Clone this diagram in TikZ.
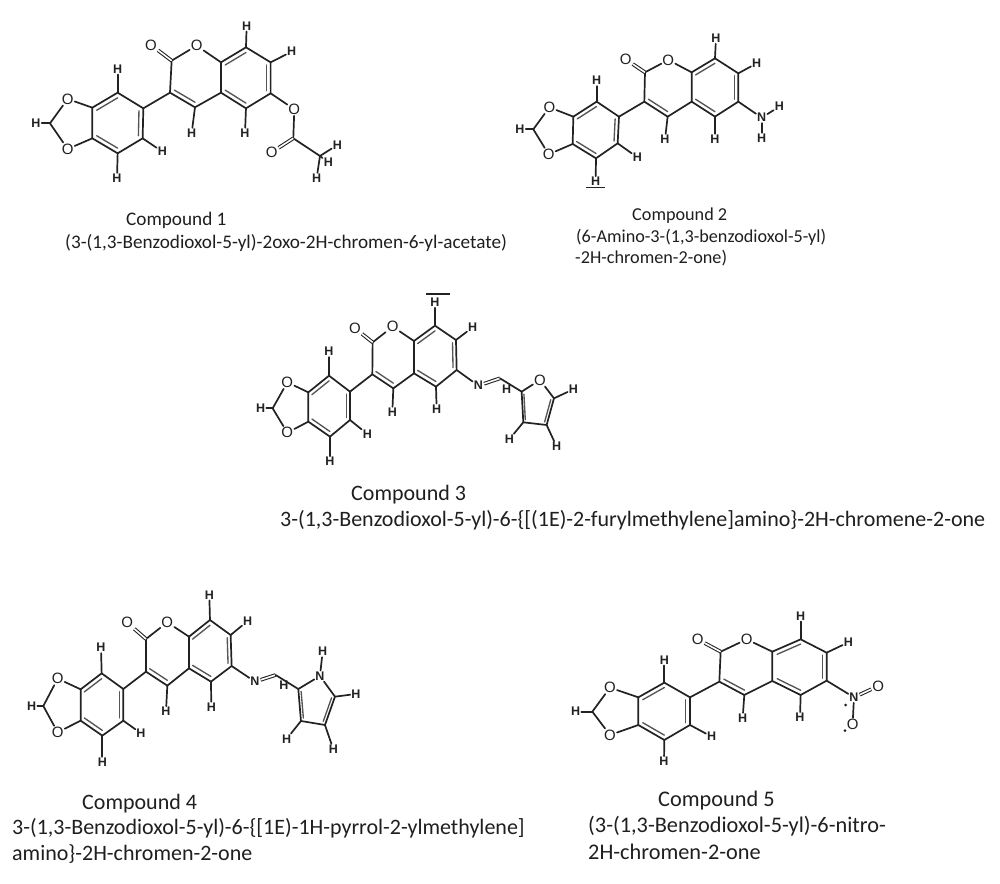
\documentclass[tikz,border=0pt]{standalone}
\usepackage{fontspec}
\setmainfont{Carlito}
\newfontfamily\atomfont{Liberation Sans}
\usetikzlibrary{calc}
\definecolor{ink}{HTML}{222222}
\definecolor{inkb}{HTML}{555555}
\tikzset{
  bond/.style={line width=1.7pt,color=ink,line cap=round,line join=round},
  inbond/.style={line width=1.35pt,color=inkb,line cap=round},
  dbond/.style={double=white,double distance=1.6pt,line width=1.05pt,color=ink},
  hatom/.style={inner sep=1pt,text=ink,font=\atomfont\bfseries\fontsize{12.5}{12.5}\selectfont},
  natom/.style={inner sep=1pt,text=ink,font=\atomfont\bfseries\fontsize{12.5}{12.5}\selectfont},
  oatom/.style={inner sep=1pt,text=ink,font=\atomfont\fontsize{15}{15}\selectfont},
  captext/.style={anchor=base west,inner sep=0pt,text=black!88},
  rulemark/.style={line width=1.1pt,color=ink},
  molscope/.style={x=.3333pt,y=-.3333pt}
}
% inner line of a ring double bond: both ends pulled towards the ring centre
\newcommand{\inb}[3]{\draw[inbond] ($(#1)!.17!(#3)$) -- ($(#2)!.17!(#3)$);}
% common skeleton: prefix #1
\newcommand{\skeleton}[1]{%
  \coordinate (#1ca) at ($(#1a1)!.5!(#1a4)$);
  \coordinate (#1cb) at ($(#1c3)!.5!(#1c8a)$);
  \coordinate (#1cc) at ($(#1c5)!.5!(#1c8)$);
  \node[oatom] (#1O1) at (#1pO1) {O};
  \node[oatom] (#1O2) at (#1pO2) {O};
  \node[oatom] (#1O) at (#1pO) {O};
  \node[oatom] (#1Oc) at (#1pOc) {O};
  \node[hatom] (#1Hm) at (#1pHm) {H};
  \node[hatom] (#1Ht) at (#1pHt) {H};
  \node[hatom] (#1Hr) at (#1pHr) {H};
  \node[hatom] (#1Hb) at (#1pHb) {H};
  \node[hatom] (#1H4) at (#1pH4) {H};
  \node[hatom] (#1H5) at (#1pH5) {H};
  \node[hatom] (#1H7) at (#1pH7) {H};
  \node[hatom] (#1H8) at (#1pH8) {H};
  \draw[bond] (#1a1)--(#1a2)--(#1a3)--(#1a4)--(#1a5)--(#1a6)--cycle;
  \draw[bond] (#1a5)--(#1O2)--(#1m)--(#1O1)--(#1a6);
  \draw[bond] (#1m)--(#1Hm);
  \draw[bond] (#1a1)--(#1Ht);
  \draw[bond] (#1a3)--(#1Hr);
  \draw[bond] (#1a4)--(#1Hb);
  \draw[bond] (#1a2)--(#1c3)--(#1c4)--(#1c4a)--(#1c8a)--(#1O)--(#1c2)--(#1c3);
  \draw[bond] (#1c4a)--(#1c5)--(#1c6)--(#1c7)--(#1c8)--(#1c8a);
  \draw[dbond] (#1c2)--(#1Oc);
  \draw[bond] (#1c4)--(#1H4);
  \draw[bond] (#1c5)--(#1H5);
  \draw[bond] (#1c7)--(#1H7);
  \draw[bond] (#1c8)--(#1H8);
  \inb{#1a1}{#1a6}{#1ca}
  \inb{#1a2}{#1a3}{#1ca}
  \inb{#1a4}{#1a5}{#1ca}
  \inb{#1c3}{#1c4}{#1cb}
  \inb{#1c4a}{#1c5}{#1cc}
  \inb{#1c6}{#1c7}{#1cc}
  \inb{#1c8}{#1c8a}{#1cc}
}
\newcommand{\setpts}[2]{\foreach \n/\x/\y in {#2}{\coordinate (#1\n) at (\x,\y);}}
\begin{document}
\begin{tikzpicture}[x=1pt,y=-1pt]
\useasboundingbox (0,0) rectangle (1000,883);
\fill[white] (0,0) rectangle (1000,883);

% ---------- Compound 1
\begin{scope}[shift={(20,30)},molscope]
\setpts{A}{a1/293/188,a2/370/235,a3/368/325,a4/293/370,a5/217/325,a6/217/233,
 m/90/280,c3/450/188,c4/525/232,c4a/603/188,c8a/603/97,c2/455/92,c5/678/235,c6/752/190,c7/752/97,c8/678/52,
 pO1/143/207,pO2/143/357,pO/530/47,pOc/393/45,pHm/48/280,pHt/293/117,pHr/427/365,pHb/291/445,
 pH4/515/310,pH5/675/310,pH7/815/65,pH8/680/-12}
\skeleton{A}
\coordinate (Acx) at (820,325);
\coordinate (Ach) at (900,378);
\node[oatom] (AOe) at (823,238) {O};
\node[oatom] (AOd) at (755,367) {O};
\node[hatom] (AHa) at (952,345) {H};
\node[hatom] (AHb2) at (925,398) {H};
\node[hatom] (AHc) at (890,445) {H};
\draw[bond] (Ac6)--(AOe)--(Acx)--(Ach);
\draw[dbond] (Acx)--(AOd);
\draw[bond] (Ach)--(AHa);
\draw[bond] (Ach)--(AHb2);
\draw[bond] (Ach)--(AHc);
\end{scope}

% ---------- Compound 2
\begin{scope}[shift={(500,20)},molscope]
\setpts{B}{a1/290/245,a2/357/290,a3/353/370,a4/288/415,a5/218/372,a6/220/290,
 m/100/328,c3/433/245,c4/503/290,c4a/575/245,c8a/575/157,c2/435/157,c5/645/290,c6/715/245,c7/715/160,c8/645/115,
 pO1/148/262,pO2/146/403,pO/505/120,pOc/377/118,pHm/60/328,pHt/290/182,pHr/412/412,pHb/287/485,
 pH4/495/358,pH5/645/358,pH7/770/130,pH8/648/55}
\skeleton{B}
\node[natom] (BN) at (785,293) {N};
\node[hatom] (BHn1) at (838,260) {H};
\node[hatom] (BHn2) at (785,355) {H};
\draw[bond] (Bc6)--(BN)--(BHn1);
\draw[bond] (BN)--(BHn2);
\draw[rulemark] (258,503)--(315,503);
\end{scope}

% ---------- Compound 3
\begin{scope}[shift={(240,285)},molscope]
\setpts{C}{a1/267/272,a2/330/320,a3/330/405,a4/270/455,a5/205/410,a6/205/322,
 m/98/370,c3/397/268,c4/460/310,c4a/522/265,c8a/522/168,c2/398/172,c5/588/305,c6/650/255,c7/648/165,c8/585/122,
 pO1/142/292,pO2/142/443,pO/458/125,pOc/345/130,pHm/62/370,pHt/267/200,pHr/382/447,pHb/270/530,
 pH4/457/382,pH5/590/372,pH7/698/127,pH8/585/52}
\skeleton{C}
\coordinate (Cch) at (780,280);
\coordinate (Cf2) at (845,320);
\coordinate (Cf5) at (942,340);
\coordinate (Cf4) at (920,420);
\coordinate (Cf3) at (850,412);
\coordinate (Cfc) at (885,365);
\node[natom] (CN) at (715,302) {N};
\node[oatom] (CO3) at (900,285) {O};
\node[hatom] (CHc) at (800,312) {H};
\node[hatom] (CH5f) at (1000,313) {H};
\node[hatom] (CH4f) at (950,485) {H};
\node[hatom] (CH3f) at (808,463) {H};
\draw[bond] (Cc6)--(CN);
\draw[dbond] (CN)--(Cch);
\draw[bond] (Cch)--(Cf2);
\draw[bond] (Cf2)--(CO3)--(Cf5)--(Cf4)--(Cf3)--(Cf2);
\inb{Cf2}{Cf3}{Cfc}
\inb{Cf5}{Cf4}{Cfc}
\draw[bond] (Cf5)--(CH5f);
\draw[bond] (Cf4)--(CH4f);
\draw[bond] (Cf3)--(CH3f);
\draw[rulemark] (558,27)--(630,27);
\end{scope}

% ---------- Compound 4
\begin{scope}[shift={(10,590)},molscope]
\setpts{D}{a1/275/250,a2/340/297,a3/340/392,a4/277/437,a5/212/392,a6/212/298,
 m/100/348,c3/408/245,c4/472/287,c4a/537/235,c8a/537/140,c2/408/147,c5/603/275,c6/665/228,c7/662/135,c8/600/90,
 pO1/143/266,pO2/143/427,pO/472/97,pOc/352/98,pHm/65/348,pHt/273/173,pHr/393/430,pHb/277/517,
 pH4/468/365,pH5/604/352,pH7/713/93,pH8/598/15}
\skeleton{D}
\coordinate (Dch) at (797,255);
\coordinate (Dp2) at (865,297);
\coordinate (Dp5) at (975,320);
\coordinate (Dp4) at (945,405);
\coordinate (Dp3) at (873,393);
\coordinate (Dpc) at (915,340);
\node[natom] (DN) at (735,275) {N};
\node[natom] (DNp) at (930,258) {N};
\node[hatom] (DHc) at (822,285) {H};
\node[hatom] (DHn) at (938,185) {H};
\node[hatom] (DH5p) at (1038,312) {H};
\node[hatom] (DH4p) at (970,478) {H};
\node[hatom] (DH3p) at (830,447) {H};
\draw[bond] (Dc6)--(DN);
\draw[dbond] (DN)--(Dch);
\draw[bond] (Dch)--(Dp2);
\draw[bond] (Dp2)--(DNp)--(Dp5)--(Dp4)--(Dp3)--(Dp2);
\inb{Dp2}{Dp3}{Dpc}
\inb{Dp5}{Dp4}{Dpc}
\draw[bond] (DNp)--(DHn);
\draw[bond] (Dp5)--(DH5p);
\draw[bond] (Dp4)--(DH4p);
\draw[bond] (Dp3)--(DH3p);
\end{scope}

% ---------- Compound 5
\begin{scope}[shift={(560,610)},molscope]
\setpts{E}{a1/313/218,a2/390/262,a3/390/345,a4/313/390,a5/235/345,a6/235/262,
 m/97/305,c3/478/215,c4/553/255,c4a/637/213,c8a/637/125,c2/482/125,c5/722/255,c6/800/212,c7/800/128,c8/722/88,
 pO1/150/233,pO2/150/375,pO/560/88,pOc/413/88,pHm/47/305,pHt/313/150,pHr/455/380,pHb/312/455,
 pH4/548/325,pH5/720/323,pH7/865/97,pH8/722/18}
\skeleton{E}
\node[natom] (EN) at (882,262) {N};
\node[oatom] (EOa) at (955,228) {O};
\node[oatom] (EOb) at (878,343) {O};
\draw[bond] (Ec6)--(EN)--(EOb);
\draw[dbond] (EN)--(EOa);
\fill[ink] (857,285) circle (4.5);
\fill[ink] (855,362) circle (4.5);
\end{scope}

% ---------- Captions
\node[captext,font=\fontsize{19.2}{19.2}\selectfont] (t1a) at (126,225) {Compound 1};
\node[captext,font=\fontsize{19.2}{19.2}\selectfont] (t1b) at (65,248) {(3-(1,3-Benzodioxol-5-yl)-2oxo-2H-chromen-6-yl-acetate)};
\node[captext,font=\fontsize{18.2}{18.2}\selectfont] (t2a) at (632,220) {Compound 2};
\node[captext,font=\fontsize{18.2}{18.2}\selectfont] (t2b) at (576,242) {(6-Amino-3-(1,3-benzodioxol-5-yl)};
\node[captext,font=\fontsize{18.2}{18.2}\selectfont] (t2c) at (575,263) {-2H-chromen-2-one)};
\node[captext,font=\fontsize{22}{22}\selectfont] (t3a) at (351,500) {Compound 3};
\node[captext,font=\fontsize{22}{22}\selectfont] (t3b) at (280,526) {3-(1,3-Benzodioxol-5-yl)-6-\{[(1E)-2-furylmethylene]amino\}-2H-chromene-2-one};
\node[captext,font=\fontsize{22}{22}\selectfont] (t4a) at (82,809) {Compound 4};
\node[captext,font=\fontsize{22}{22}\selectfont] (t4b) at (12,834) {3-(1,3-Benzodioxol-5-yl)-6-\{[1E)-1H-pyrrol-2-ylmethylene]};
\node[captext,font=\fontsize{22}{22}\selectfont] (t4c) at (12,860) {amino\}-2H-chromen-2-one};
\node[captext,font=\fontsize{22.3}{22.3}\selectfont] (t5a) at (658,806) {Compound 5};
\node[captext,font=\fontsize{22.3}{22.3}\selectfont] (t5b) at (588,832) {(3-(1,3-Benzodioxol-5-yl)-6-nitro-};
\node[captext,font=\fontsize{22.3}{22.3}\selectfont] (t5c) at (588,859) {2H-chromen-2-one};
\end{tikzpicture}
\end{document}
